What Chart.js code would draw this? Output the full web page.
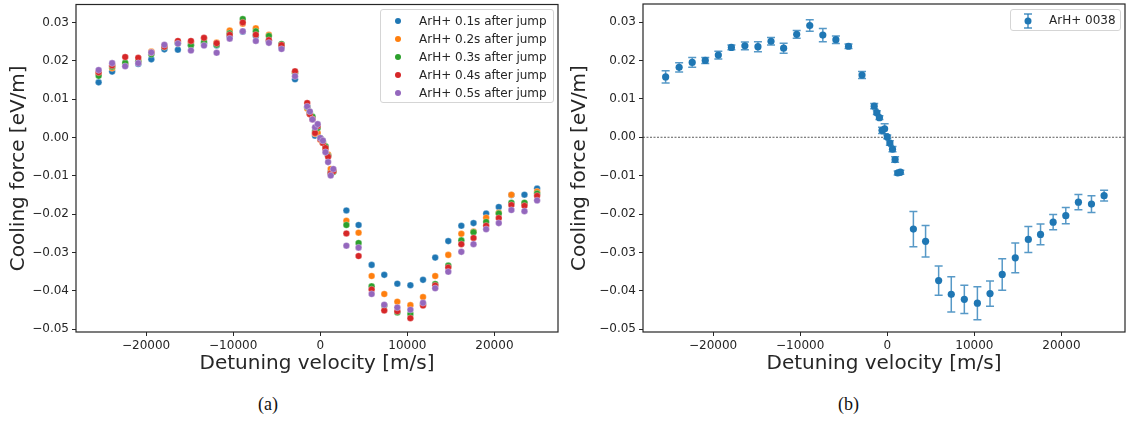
<!DOCTYPE html>
<html>
<head>
<meta charset="utf-8">
<script src="https://cdn.jsdelivr.net/npm/chart.js@4.4.1/dist/chart.umd.min.js"></script>
<style>
  body { margin: 0; background: #fff; font-family: "DejaVu Sans", sans-serif; }
  .page { position: relative; width: 1129px; height: 423px; overflow: hidden; }
  canvas { position: absolute; top: 0; }
  #leftChart { left: 0; }
  #rightChart { left: 566px; }
  .legend { position: absolute; box-sizing: border-box; background: rgba(255,255,255,0.85);
            border: 1px solid #d5d5d5; border-radius: 3px; font-size: 12px; color: #262626; }
  .legend .row { position: absolute; left: 0; height: 14px; line-height: 14px; white-space: nowrap; }
  .legend .dot { position: absolute; width: 6px; height: 6px; border-radius: 50%; top: 4px; }
  .legend .txt { position: absolute; top: 0; }
  .caption { position: absolute; top: 394px; font-family: "Liberation Serif", serif; font-size: 18px; color: #111; }
</style>
</head>
<body>
<div class="page">
  <canvas id="leftChart" width="566" height="376"></canvas>
  <canvas id="rightChart" width="563" height="376"></canvas>
  <div class="legend" id="legendA" style="left:380px; top:9px; width:174px; height:94px;"></div>
  <div class="legend" style="left:1010px; top:9px; width:111px; height:22px;">
    <svg style="position:absolute; left:11px; top:2px;" width="12" height="18">
      <line x1="6" y1="2" x2="6" y2="16" stroke="rgba(31,119,180,0.8)" stroke-width="1.5"/>
      <line x1="2" y1="2" x2="10" y2="2" stroke="rgba(31,119,180,0.8)" stroke-width="1.5"/>
      <line x1="2" y1="16" x2="10" y2="16" stroke="rgba(31,119,180,0.8)" stroke-width="1.5"/>
      <circle cx="6" cy="9" r="3.5" fill="#1f77b4"/>
    </svg>
    <span style="position:absolute; left:38px; top:3px;">ArH+ 0038</span>
  </div>
  <div class="caption" style="left:258px;">(a)</div>
  <div class="caption" style="left:838px;">(b)</div>
</div>
<script>
// detuning velocities [m/s], same grid for both panels
const velocity = [-25450, -23900, -22400, -20900, -19400, -17900, -16350, -14850, -13350, -11900,
  -10400, -8900, -7400, -5900, -4450, -2900,
  -1500, -1200, -900, -600, -300, 0, 300, 600, 900, 1200, 1500,
  3000, 4400, 5900, 7350, 8850, 10350, 11800, 13200, 14700, 16200, 17600, 19050, 20500, 21950, 23450, 24900];

// panel (a): cooling force [eV/m] at different times after the jump
const force01 = [.0144, .0172, .0190, .0192, .0204, .0230, .0229, .0241, .0246, .0240, .0264, .0276, .0265, .0252, .0236, .0152,
  .0079, .0064, .0052, .0005, .0009, -.0003, -.0012, -.0025, -.0046, -.0090, -.0088,
  -.0190, -.0228, -.0332, -.0358, -.0381, -.0385, -.0371, -.0313, -.0270, -.0230, -.0223, -.0198, -.0181, -.0150, -.0149, -.0133];
const force02 = [.0168, .0181, .0192, .0198, .0224, .0238, .0250, .0248, .0258, .0248, .0279, .0297, .0285, .0268, .0242, .0170,
  .0076, .0062, .0049, .0010, .0012, -.0006, -.0014, -.0030, -.0044, -.0082, -.0086,
  -.0217, -.0248, -.0361, -.0408, -.0428, -.0437, -.0416, -.0361, -.0306, -.0251, -.0245, -.0209, -.0196, -.0149, -.0172, -.0141];
const force03 = [.0161, .0185, .0195, .0199, .0217, .0236, .0245, .0241, .0250, .0242, .0272, .0309, .0277, .0265, .0244, .0168,
  .0080, .0066, .0055, .0017, .0025, -.0001, -.0010, -.0023, -.0048, -.0094, -.0090,
  -.0228, -.0275, -.0388, -.0438, -.0456, -.0460, -.0434, -.0382, -.0334, -.0268, -.0247, -.0220, -.0198, -.0170, -.0170, -.0146];
const force04 = [.0170, .0188, .0210, .0208, .0222, .0237, .0252, .0252, .0260, .0246, .0268, .0300, .0268, .0254, .0241, .0173,
  .0090, .0061, .0048, .0012, .0030, -.0004, -.0014, -.0027, -.0050, -.0093, -.0088,
  -.0250, -.0309, -.0396, -.0451, -.0453, -.0471, -.0438, -.0386, -.0339, -.0278, -.0262, -.0230, -.0210, -.0176, -.0178, -.0152];
const force05 = [.0176, .0194, .0186, .0194, .0222, .0242, .0245, .0227, .0240, .0221, .0258, .0277, .0252, .0247, .0231, .0160,
  .0081, .0068, .0047, .0027, .0035, -.0001, -.0008, -.0038, -.0064, -.0099, -.0082,
  -.0282, -.0287, -.0408, -.0436, -.0443, -.0449, -.0431, -.0393, -.0350, -.0298, -.0278, -.0239, -.0223, -.0189, -.0192, -.0164];

// panel (b): run 0038 with errors
const force0038 = [.0157, .0182, .0195, .0200, .0214, .0234, .0238, .0236, .0250, .0232, .0268, .0291, .0266, .0254, .0237, .0162,
  .0081, .0064, .0051, .0018, .0022, .0001, -.0015, -.0031, -.0058, -.0093, -.0091,
  -.0239, -.0271, -.0373, -.0409, -.0422, -.0432, -.0407, -.0357, -.0314, -.0266, -.0253, -.0221, -.0204, -.0169, -.0174, -.0152];
const err0038 = [.0016, .0012, .0013, .0008, .0010, .0006, .0010, .0013, .0010, .0013, .0010, .0015, .0017, .0010, .0006, .0009,
  .0007, .0005, .0005, .0008, .0013, .0005, .0006, .0007, .0007, .0005, .0005,
  .0046, .0041, .0038, .0046, .0037, .0043, .0033, .0041, .0039, .0034, .0027, .0020, .0021, .0020, .0022, .0014];

const seriesLabels = ['ArH+ 0.1s after jump', 'ArH+ 0.2s after jump', 'ArH+ 0.3s after jump',
  'ArH+ 0.4s after jump', 'ArH+ 0.5s after jump'];
const seriesColors = ['#1f77b4', '#ff7f0e', '#2ca02c', '#d62728', '#9467bd'];
const xTicks = [-20000, -10000, 0, 10000, 20000];
const yTicks = [-0.05, -0.04, -0.03, -0.02, -0.01, 0, 0.01, 0.02, 0.03];

const ink = '#262626';

function points(ys) {
  return velocity.map((v, i) => ({ x: v, y: ys[i] }));
}

// box around the axes like matplotlib
const framePlugin = {
  id: 'frame',
  afterDatasetsDraw(chart) {
    const a = chart.chartArea, ctx = chart.ctx;
    ctx.save();
    ctx.strokeStyle = ink;
    ctx.lineWidth = 1.2;
    ctx.strokeRect(a.left, a.top, a.right - a.left, a.bottom - a.top);
    ctx.restore();
  }
};

const zeroLinePlugin = {
  id: 'zeroLine',
  beforeDatasetsDraw(chart) {
    const a = chart.chartArea, ctx = chart.ctx;
    const y = chart.scales.y.getPixelForValue(0);
    ctx.save();
    ctx.strokeStyle = '#333';
    ctx.lineWidth = 0.8;
    ctx.setLineDash([2, 1.5]);
    ctx.beginPath();
    ctx.moveTo(a.left, y);
    ctx.lineTo(a.right, y);
    ctx.stroke();
    ctx.restore();
  }
};

const errorBarPlugin = {
  id: 'errorBars',
  beforeDatasetsDraw(chart) {
    const xs = chart.scales.x, ys = chart.scales.y, ctx = chart.ctx;
    ctx.save();
    ctx.strokeStyle = 'rgba(31,119,180,0.75)';
    ctx.lineWidth = 1.5;
    velocity.forEach((v, i) => {
      const px = xs.getPixelForValue(v);
      const top = ys.getPixelForValue(force0038[i] + err0038[i]);
      const bot = ys.getPixelForValue(force0038[i] - err0038[i]);
      ctx.beginPath();
      ctx.moveTo(px, top); ctx.lineTo(px, bot);
      ctx.moveTo(px - 4, top); ctx.lineTo(px + 4, top);
      ctx.moveTo(px - 4, bot); ctx.lineTo(px + 4, bot);
      ctx.stroke();
    });
    ctx.restore();
  }
};

function makeScales(yWidth) {
  return {
    x: {
      type: 'linear', min: -28050, max: 27300,
      afterBuildTicks: s => { s.ticks = xTicks.map(v => ({ value: v })); },
      afterFit: s => { s.height = 44; s.paddingLeft = 0; s.paddingRight = 0; },
      grid: { display: true, drawOnChartArea: false, tickLength: 4, color: ink, lineWidth: 1 },
      border: { display: false },
      ticks: { font: { size: 12 }, color: ink, padding: 3, maxRotation: 0, autoSkip: false,
               callback: v => String(v).replace('-', '\u2212') },
      title: { display: true, text: 'Detuning velocity [m/s]', font: { size: 20 }, color: ink, padding: 0 }
    },
    y: {
      type: 'linear', min: -0.0507, max: 0.0347,
      afterBuildTicks: s => { s.ticks = yTicks.map(v => ({ value: v })); },
      afterFit: s => { s.width = yWidth; s.paddingTop = 0; s.paddingBottom = 0; },
      grid: { display: true, drawOnChartArea: false, tickLength: 4, color: ink, lineWidth: 1 },
      border: { display: false },
      ticks: { font: { size: 12 }, color: ink, padding: 3, autoSkip: false,
               callback: v => v.toFixed(2).replace('-', '\u2212') },
      title: { display: true, text: 'Cooling force [eV/m]', font: { size: 20 }, color: ink, padding: 0 }
    }
  };
}

Chart.defaults.font.family = '"DejaVu Sans", sans-serif';

const forces = [force01, force02, force03, force04, force05];

new Chart(document.getElementById('leftChart'), {
  type: 'scatter',
  data: {
    datasets: forces.map((f, i) => ({
      label: seriesLabels[i],
      data: points(f),
      backgroundColor: seriesColors[i],
      borderColor: 'rgba(255,255,255,0.6)',
      borderWidth: 0.5,
      pointRadius: 3.3,
      order: 5 - i
    }))
  },
  options: {
    responsive: false,
    animation: false,
    layout: { padding: { left: 7, right: 8, top: 3, bottom: 0 } },
    plugins: { legend: { display: false }, tooltip: { enabled: false } },
    scales: makeScales(69)
  },
  plugins: [framePlugin]
});

new Chart(document.getElementById('rightChart'), {
  type: 'scatter',
  data: {
    datasets: [{
      label: 'ArH+ 0038',
      data: points(force0038),
      backgroundColor: '#1f77b4',
      borderColor: '#1f77b4',
      borderWidth: 0,
      pointRadius: 3.6
    }]
  },
  options: {
    responsive: false,
    animation: false,
    layout: { padding: { left: 2, right: 2, top: 3, bottom: 0 } },
    plugins: { legend: { display: false }, tooltip: { enabled: false } },
    scales: makeScales(75)
  },
  plugins: [zeroLinePlugin, errorBarPlugin, framePlugin]
});

// legend for panel (a)
const legendA = document.getElementById('legendA');
seriesLabels.forEach((label, i) => {
  const row = document.createElement('div');
  row.className = 'row';
  row.style.top = (4 + i * 18) + 'px';
  row.innerHTML = '<span class="dot" style="left:14px; background:' + seriesColors[i] + '"></span>' +
    '<span class="txt" style="left:38px">' + label + '</span>';
  legendA.appendChild(row);
});
</script>
</body>
</html>
